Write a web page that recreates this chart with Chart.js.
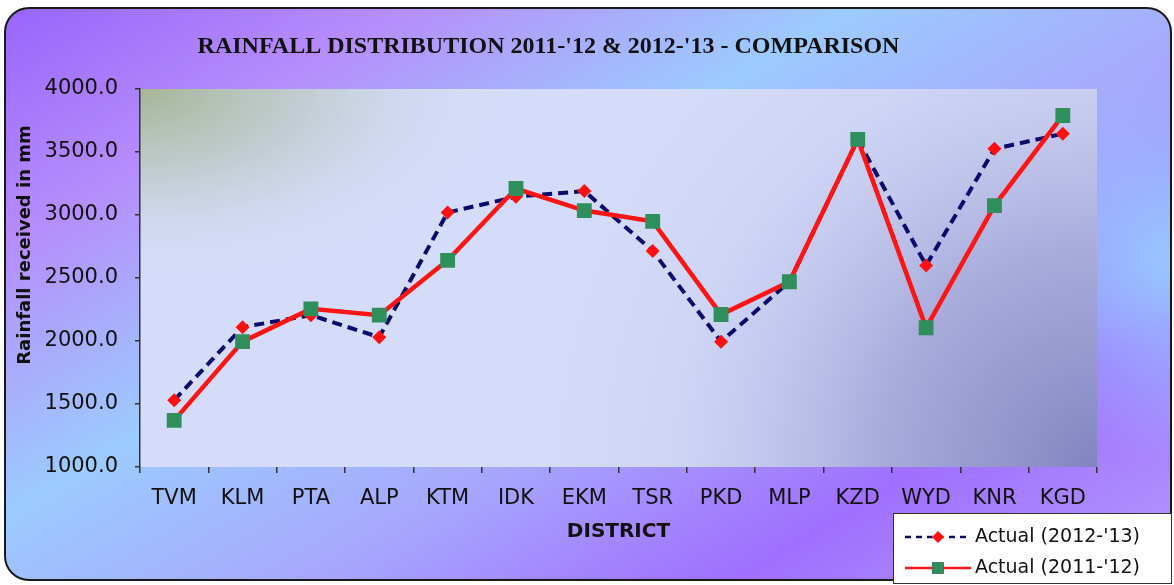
<!DOCTYPE html>
<html>
<head>
<meta charset="utf-8">
<script src="https://cdn.jsdelivr.net/npm/chart.js@4.4.1/dist/chart.umd.min.js"></script>
<style>
  html, body { margin: 0; padding: 0; background: #fff; }
  #rain { display: block; }
</style>
</head>
<body>
<canvas id="rain" width="1174" height="585"></canvas>
<script>
// District-wise rainfall (mm)
const districts = ['TVM', 'KLM', 'PTA', 'ALP', 'KTM', 'IDK', 'EKM', 'TSR', 'PKD', 'MLP', 'KZD', 'WYD', 'KNR', 'KGD'];
const actual1213 = [1530, 2110, 2205, 2030, 3020, 3145, 3190, 2715, 1995, 2470, 3600, 2600, 3525, 3645];
const actual1112 = [1370, 1995, 2255, 2205, 2640, 3210, 3035, 2950, 2210, 2470, 3600, 2105, 3075, 3790];
const yTicks = [1000, 1500, 2000, 2500, 3000, 3500, 4000];

const sans = "'DejaVu Sans', 'Liberation Sans', Arial, sans-serif";

// rounded card + shaded plot area behind everything
const backdrop = {
    id: 'backdrop',
    beforeDraw(chart) {
        const { ctx, width, height, chartArea: a } = chart;
        ctx.save();
        ctx.fillStyle = '#fff';
        ctx.fillRect(0, 0, width, height);

        const g = ctx.createLinearGradient(0, 0, 600, 1000);
        g.addColorStop(0, '#9763fb');
        g.addColorStop(0.18, '#b68cfb');
        g.addColorStop(0.38, '#9ccbfd');
        g.addColorStop(0.56, '#a7a8fd');
        g.addColorStop(0.75, '#a06ffe');
        g.addColorStop(1, '#b9a9fb');
        ctx.beginPath();
        ctx.roundRect(5, 8, 1166, 572, 24);
        ctx.fillStyle = g;
        ctx.fill();

        // light blue glow on the right edge
        ctx.save();
        ctx.clip();
        const r = ctx.createRadialGradient(1174, 260, 10, 1174, 260, 200);
        r.addColorStop(0, 'rgba(150,205,255,0.9)');
        r.addColorStop(1, 'rgba(150,205,255,0)');
        ctx.fillStyle = r;
        ctx.fillRect(900, 0, 274, 585);
        ctx.restore();

        ctx.lineWidth = 2;
        ctx.strokeStyle = '#1a1a1a';
        ctx.stroke();

        // plot area: pale blue, greyish-green corner top left, deeper towards bottom right
        const w = a.right - a.left, h = a.bottom - a.top;
        ctx.save();
        ctx.beginPath();
        ctx.rect(a.left, a.top, w, h);
        ctx.clip();
        ctx.fillStyle = '#d4dcf9';
        ctx.fillRect(a.left, a.top, w, h);

        const dark = ctx.createRadialGradient(a.right, a.bottom, 0, a.right, a.bottom, 620);
        dark.addColorStop(0, 'rgba(130,132,192,1)');
        dark.addColorStop(0.35, 'rgba(160,162,214,0.85)');
        dark.addColorStop(0.7, 'rgba(200,204,240,0.4)');
        dark.addColorStop(1, 'rgba(212,220,249,0)');
        ctx.fillStyle = dark;
        ctx.fillRect(a.left, a.top, w, h);

        ctx.translate(a.left, a.top);
        ctx.scale(1.9, 1);
        const green = ctx.createRadialGradient(0, 0, 0, 0, 0, 190);
        green.addColorStop(0, 'rgba(166,180,150,1)');
        green.addColorStop(0.45, 'rgba(185,198,190,0.7)');
        green.addColorStop(1, 'rgba(212,220,249,0)');
        ctx.fillStyle = green;
        ctx.fillRect(0, 0, w, h);
        ctx.restore();
        ctx.restore();
    }
};

// rotated y title and the boxed legend at the lower right
const extras = {
    id: 'extras',
    afterDraw(chart) {
        const { ctx } = chart;
        ctx.save();
        ctx.translate(25, 245);
        ctx.rotate(-Math.PI / 2);
        ctx.font = "bold 18px " + sans;
        ctx.fillStyle = '#111';
        ctx.textAlign = 'center';
        ctx.textBaseline = 'middle';
        ctx.fillText('Rainfall received in mm', 0, 0);
        ctx.restore();

        const bx = 893, by = 513, bw = 279, bh = 71;
        ctx.save();
        ctx.fillStyle = '#fff';
        ctx.fillRect(bx, by, bw, bh);
        ctx.strokeStyle = '#333';
        ctx.lineWidth = 1;
        ctx.strokeRect(bx + 0.5, by + 0.5, bw - 1, bh - 1);

        chart.data.datasets.forEach((ds, i) => {
            const y = by + 24 + i * 31;
            ctx.beginPath();
            ctx.setLineDash(ds.borderDash ? [6, 5] : []);
            ctx.strokeStyle = ds.borderColor;
            ctx.lineWidth = 2.5;
            ctx.moveTo(905, y);
            ctx.lineTo(971, y);
            ctx.stroke();
            ctx.setLineDash([]);
            Chart.helpers.drawPoint(ctx, {
                pointStyle: ds.pointStyle,
                radius: ds.pointStyle === 'rect' ? 8 : 6,
                borderWidth: 0
            }, 938, y);
            ctx.fillStyle = ds.pointBackgroundColor;
            ctx.fill();

            ctx.fillStyle = '#111';
            ctx.font = "19px " + sans;
            ctx.textAlign = 'left';
            ctx.textBaseline = 'middle';
            ctx.fillText(ds.label, 975, y);
        });
        ctx.restore();
    }
};

new Chart(document.getElementById('rain'), {
    type: 'line',
    data: {
        labels: districts,
        datasets: [
            {
                label: "Actual (2012-'13)",
                data: actual1213,
                borderColor: '#0b0b6e',
                borderWidth: 4,
                borderDash: [10, 6],
                pointStyle: 'rectRot',
                pointRadius: 7,
                pointBackgroundColor: '#ff1010',
                pointBorderWidth: 0,
                tension: 0,
                order: 1
            },
            {
                label: "Actual (2011-'12)",
                data: actual1112,
                borderColor: '#ff1414',
                borderWidth: 4.5,
                pointStyle: 'rect',
                pointRadius: 10.5,
                pointBackgroundColor: '#2f8f5c',
                pointBorderWidth: 0,
                tension: 0,
                order: 0
            }
        ]
    },
    options: {
        responsive: false,
        animation: false,
        devicePixelRatio: 1,
        layout: { padding: { top: 0, left: 0, right: 77, bottom: 0 } },
        plugins: {
            legend: { display: false },
            tooltip: { enabled: false },
            title: {
                display: true,
                text: "RAINFALL DISTRIBUTION 2011-'12 & 2012-'13 - COMPARISON",
                color: '#111',
                font: { family: "'Liberation Serif', 'Times New Roman', serif", size: 24, weight: 'bold' },
                padding: { top: 32.6, bottom: 27.6 }
            }
        },
        scales: {
            x: {
                offset: true,
                grid: { offset: true, drawOnChartArea: false, tickLength: 6, color: '#333', lineWidth: 1.5 },
                border: { display: false },
                ticks: { color: '#111', font: { family: sans, size: 21 }, padding: 13, maxRotation: 0 },
                title: {
                    display: true,
                    text: 'DISTRICT',
                    color: '#111',
                    font: { family: sans, size: 20, weight: 'bold' },
                    padding: { top: 0, bottom: 41 }
                },
                afterFit(scale) { scale.height = 118; }
            },
            y: {
                min: yTicks[0],
                max: yTicks[yTicks.length - 1],
                afterBuildTicks(scale) { scale.ticks = yTicks.map(v => ({ value: v })); },
                grid: { drawOnChartArea: false, tickLength: 5, color: '#333', lineWidth: 1.5 },
                border: { display: true, color: '#333', width: 1.5 },
                ticks: {
                    color: '#111',
                    font: { family: sans, size: 21 },
                    padding: 17,
                    callback: v => Number(v).toFixed(1)
                },
                afterFit(scale) { scale.width = 140; }
            }
        }
    },
    plugins: [backdrop, extras]
});
</script>
</body>
</html>
